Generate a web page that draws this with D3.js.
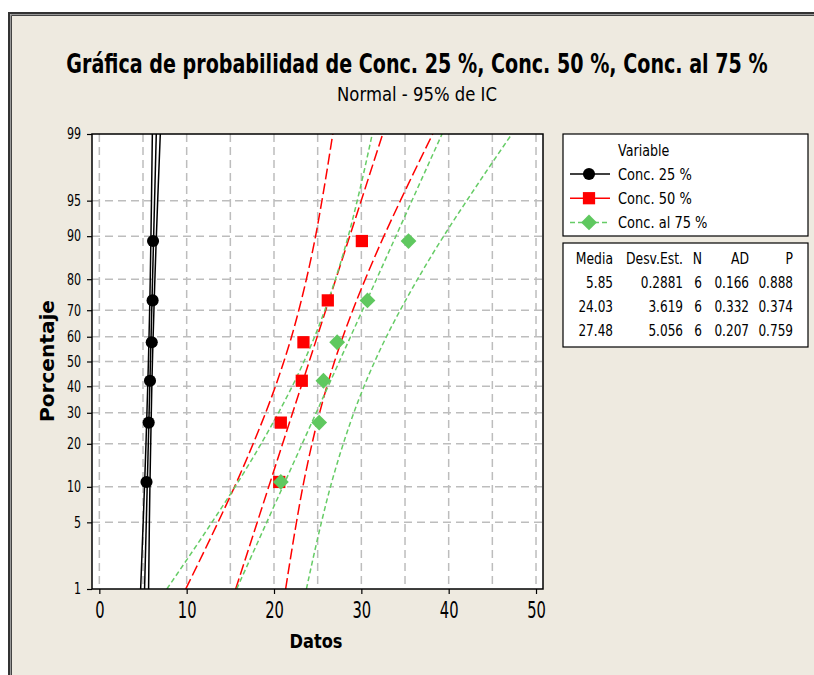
<!DOCTYPE html>
<html>
<head>
<meta charset="utf-8">
<script src="https://cdn.jsdelivr.net/npm/d3@7"></script>
<style>
  body { margin: 0; background: #fff; }
  text { font-family: "DejaVu Sans", sans-serif; fill: #000; }
</style>
</head>
<body>
<div id="chart"></div>
<script>
// plotting positions (%) of the 6 observations
const pointPct = [10.9, 26.6, 42.2, 57.8, 73.4, 89.1];
const conc25 = [5.40, 5.65, 5.80, 6.00, 6.10, 6.15];
const conc50 = [20.60, 20.78, 23.18, 23.37, 26.16, 30.06];
const conc75 = [20.78, 25.17, 25.66, 27.23, 30.70, 35.40];

// fitted lines, read at 1 % and 99 %
const fitPct = [1, 99];
const fit25 = [5.18, 6.52];
const fit50 = [15.61, 32.45];
const fit75 = [15.72, 39.24];

// confidence bands read at each percent grid level
const bandPct = [1, 5, 10, 20, 30, 40, 50, 60, 70, 80, 90, 95, 99];
const low25 = [4.73, 5.02, 5.17, 5.34, 5.45, 5.54, 5.62, 5.69, 5.76, 5.83, 5.91, 5.97, 6.07];
const high25 = [5.64, 5.73, 5.79, 5.88, 5.95, 6.01, 6.08, 6.16, 6.25, 6.36, 6.53, 6.68, 6.98];
const low50 = [9.89, 13.59, 15.48, 17.61, 19.04, 20.17, 21.13, 22.01, 22.84, 23.71, 24.76, 25.49, 26.73];
const high50 = [21.33, 22.57, 23.30, 24.35, 25.22, 26.06, 26.93, 27.89, 29.02, 30.45, 32.58, 34.47, 38.17];
const low75 = [7.73, 12.89, 15.54, 18.52, 20.51, 22.09, 23.43, 24.65, 25.82, 27.03, 28.50, 29.53, 31.25];
const high75 = [23.71, 25.43, 26.46, 27.93, 29.14, 30.31, 31.53, 32.87, 34.45, 36.44, 39.42, 42.07, 47.23];

const yTicks = [1, 5, 10, 20, 30, 40, 50, 60, 70, 80, 90, 95, 99];
const xTicks = [0, 10, 20, 30, 40, 50];
const xGrid = [0, 5, 10, 15, 20, 25, 30, 35, 40, 45, 50];

const seriesNames = ["Conc. 25 %", "Conc. 50 %", "Conc. al 75 %"];
const tableHeader = ["Media", "Desv.Est.", "N", "AD", "P"];
const tableMedia = ["5.85", "24.03", "27.48"];
const tableSd = ["0.2881", "3.619", "5.056"];
const tableN = ["6", "6", "6"];
const tableAD = ["0.166", "0.332", "0.207"];
const tableP = ["0.888", "0.374", "0.759"];

const width = 814, height = 675;
const plot = { left: 92, right: 543, top: 134, bottom: 589 };
const colors = { c25: "#000000", c50: "#ff0000", c75: "#5fc85f", line75: "#66cc66" };

// inverse normal cdf (Acklam) for the probability axis
function probit(p) {
    const a = [-3.969683028665376e+01, 2.209460984245205e+02, -2.759285104469687e+02, 1.383577518672690e+02, -3.066479806614716e+01, 2.506628277459239e+00];
    const b = [-5.447609879822406e+01, 1.615858368580409e+02, -1.556989798598866e+02, 6.680131188771972e+01, -1.328068155288572e+01];
    const c = [-7.784894002430293e-03, -3.223964580411365e-01, -2.400758277161838e+00, -2.549732539343734e+00, 4.374664141464968e+00, 2.938163982698783e+00];
    const d = [7.784695709041462e-03, 3.224671290700398e-01, 2.445134137142996e+00, 3.754408661907416e+00];
    const pl = 0.02425;
    let q, r;
    if (p < pl) {
        q = Math.sqrt(-2 * Math.log(p));
        return (((((c[0] * q + c[1]) * q + c[2]) * q + c[3]) * q + c[4]) * q + c[5]) / ((((d[0] * q + d[1]) * q + d[2]) * q + d[3]) * q + 1);
    }
    if (p <= 1 - pl) {
        q = p - 0.5; r = q * q;
        return (((((a[0] * r + a[1]) * r + a[2]) * r + a[3]) * r + a[4]) * r + a[5]) * q / (((((b[0] * r + b[1]) * r + b[2]) * r + b[3]) * r + b[4]) * r + 1);
    }
    q = Math.sqrt(-2 * Math.log(1 - p));
    return -(((((c[0] * q + c[1]) * q + c[2]) * q + c[3]) * q + c[4]) * q + c[5]) / ((((d[0] * q + d[1]) * q + d[2]) * q + d[3]) * q + 1);
}

const x = d3.scaleLinear().domain([-0.84, 50.8]).range([plot.left, plot.right]);
const yz = d3.scaleLinear().domain([probit(0.01), probit(0.99)]).range([plot.bottom, plot.top]);
const y = p => yz(probit(p / 100));

const svg = d3.select("#chart").append("svg")
    .attr("width", width)
    .attr("height", height);

// squeezed text (the original font is a narrow Tahoma)
function label(parent, px, py, str, size, k, anchor, weight) {
    return parent.append("text")
        .attr("transform", `translate(${px},${py}) scale(${k},1)`)
        .attr("text-anchor", anchor || "start")
        .style("font-size", size + "px")
        .attr("font-weight", weight || "normal")
        .text(str);
}
// squeezed to a fixed width
function fitted(parent, pre, str, size, w, weight) {
    const t = parent.append("text")
        .attr("text-anchor", "middle")
        .style("font-size", size + "px")
        .attr("font-weight", weight || "normal")
        .text(str);
    const k = w / t.node().getComputedTextLength();
    t.attr("transform", `${pre} scale(${k},1)`);
    return t;
}

// 1. frame + background
svg.append("rect").attr("x", 8).attr("y", 12).attr("width", width).attr("height", height)
    .attr("fill", "#eeeae0");
svg.append("path").attr("d", `M9,${height} V13 H${width}`).attr("fill", "none")
    .attr("stroke", "#333").attr("stroke-width", 2);
svg.append("path").attr("d", `M10.5,${height} V14.5 H${width}`).attr("fill", "none")
    .attr("stroke", "#999").attr("stroke-width", 1);
svg.append("path").attr("d", `M11.5,${height} V15.5 H${width}`).attr("fill", "none")
    .attr("stroke", "#444").attr("stroke-width", 1);

// 2. titles
fitted(svg, "translate(417,73)", "Gráfica de probabilidad de Conc. 25 %, Conc. 50 %, Conc. al 75 %", 26, 702, "bold");
fitted(svg, "translate(417,101)", "Normal - 95% de IC", 19, 160);

// 3. plot area + grid
svg.append("rect")
    .attr("x", plot.left).attr("y", plot.top)
    .attr("width", plot.right - plot.left).attr("height", plot.bottom - plot.top)
    .attr("fill", "#fff");

const grid = svg.append("g").attr("stroke", "#bdbdbd").attr("stroke-width", 1.5)
    .attr("stroke-dasharray", "8,5");
xGrid.forEach(v => {
    grid.append("line").attr("x1", x(v)).attr("x2", x(v))
        .attr("y1", plot.top).attr("y2", plot.bottom);
});
yTicks.slice(1, -1).forEach(p => {
    grid.append("line").attr("x1", plot.left).attr("x2", plot.right)
        .attr("y1", y(p)).attr("y2", y(p));
});

svg.append("clipPath").attr("id", "clip").append("rect")
    .attr("x", plot.left).attr("y", plot.top)
    .attr("width", plot.right - plot.left).attr("height", plot.bottom - plot.top);

const lines = svg.append("g").attr("clip-path", "url(#clip)");
const band = d3.line().x(d => x(d[0])).y(d => y(d[1])).curve(d3.curveMonotoneY);

const series = [
    { fit: fit25, low: low25, high: high25, color: colors.c25, dash: null, width: 1.5 },
    { fit: fit50, low: low50, high: high50, color: colors.c50, dash: "11,4", width: 1.5 },
    { fit: fit75, low: low75, high: high75, color: colors.line75, dash: "5,3", width: 1.5 }
];

// 4. fitted lines and confidence bands
series.forEach(s => {
    [s.low, s.high].forEach(arr => {
        lines.append("path")
            .datum(arr.map((v, i) => [v, bandPct[i]]))
            .attr("d", band)
            .attr("fill", "none")
            .attr("stroke", s.color)
            .attr("stroke-width", s.width)
            .attr("stroke-dasharray", s.dash);
    });
    lines.append("path")
        .datum(s.fit.map((v, i) => [v, fitPct[i]]))
        .attr("d", d3.line().x(d => x(d[0])).y(d => y(d[1])))
        .attr("fill", "none")
        .attr("stroke", s.color)
        .attr("stroke-width", s.width)
        .attr("stroke-dasharray", s.dash);
});

// 5. points
const sym = {
    circle: d3.symbol().type(d3.symbolCircle).size(115),
    square: d3.symbol().type(d3.symbolSquare).size(150),
    diamond: d3.symbol().type(d3.symbolSquare).size(125)
};
function drawPoint(g, cx, cy, kind) {
    const p = g.append("path").attr("transform", `translate(${cx},${cy})` + (kind === "diamond" ? " rotate(45)" : ""));
    if (kind === "circle") p.attr("d", sym.circle).attr("fill", colors.c25);
    if (kind === "square") p.attr("d", sym.square).attr("fill", colors.c50);
    if (kind === "diamond") p.attr("d", sym.diamond).attr("fill", colors.c75);
}
const pts = svg.append("g");
conc25.forEach((v, i) => drawPoint(pts, x(v), y(pointPct[i]), "circle"));
conc50.forEach((v, i) => drawPoint(pts, x(v), y(pointPct[i]), "square"));
conc75.forEach((v, i) => drawPoint(pts, x(v), y(pointPct[i]), "diamond"));

svg.append("rect")
    .attr("x", plot.left).attr("y", plot.top)
    .attr("width", plot.right - plot.left).attr("height", plot.bottom - plot.top)
    .attr("fill", "none").attr("stroke", "#000").attr("stroke-width", 1.5);

// 6. axes
const xAxis = svg.append("g")
    .attr("transform", `translate(0,${plot.bottom})`)
    .call(d3.axisBottom(x).tickValues(xTicks).tickSize(5).tickPadding(8));
xAxis.select(".domain").remove();
xAxis.selectAll("text").style("font-size", "23px").attr("font-family", null)
    .attr("transform", "scale(0.64,1)");

const yAxis = svg.append("g")
    .attr("transform", `translate(${plot.left},0)`)
    .call(d3.axisLeft(yz).tickValues(yTicks.map(p => probit(p / 100)))
        .tickFormat((d, i) => yTicks[i]).tickSize(5).tickPadding(6));
yAxis.select(".domain").remove();
yAxis.selectAll("text").style("font-size", "15px").attr("font-family", null)
    .attr("x", 0).attr("transform", "translate(-11,0) scale(0.74,1)");
svg.selectAll(".tick line").attr("stroke", "#000").attr("stroke-width", 1.2);

fitted(svg, "translate(316,648)", "Datos", 20, 53, "bold");
fitted(svg, "translate(54,361) rotate(-90)", "Porcentaje", 20, 122, "bold");

// 7. legend
svg.append("rect").attr("x", 563).attr("y", 134).attr("width", 245).attr("height", 102)
    .attr("fill", "#fff").attr("stroke", "#000").attr("stroke-width", 1.2);
label(svg, 618, 156, "Variable", 15.5, 0.82);
const legendKinds = ["circle", "square", "diamond"];
seriesNames.forEach((name, i) => {
    const cy = 174 + i * 24.2;
    svg.append("line").attr("x1", 570).attr("x2", 610).attr("y1", cy).attr("y2", cy)
        .attr("stroke", series[i].color).attr("stroke-width", 1.5)
        .attr("stroke-dasharray", i === 2 ? "5,3" : null);
    drawPoint(svg, 589, cy, legendKinds[i]);
    label(svg, 618, cy + 5.5, name, 15.5, 0.84);
});

// 8. stats table
svg.append("rect").attr("x", 563).attr("y", 243).attr("width", 245).attr("height", 104)
    .attr("fill", "#fff").attr("stroke", "#000").attr("stroke-width", 1.2);
const colRight = [613, 683, 702, 749, 793];
const cols = [tableMedia, tableSd, tableN, tableAD, tableP];
tableHeader.forEach((h, j) => {
    label(svg, colRight[j], 263.5, h, 15.5, 0.8, "end");
});
cols.forEach((col, j) => {
    col.forEach((v, i) => {
        label(svg, colRight[j], 288 + i * 24, v, 15.5, 0.78, "end");
    });
});
</script>
</body>
</html>
